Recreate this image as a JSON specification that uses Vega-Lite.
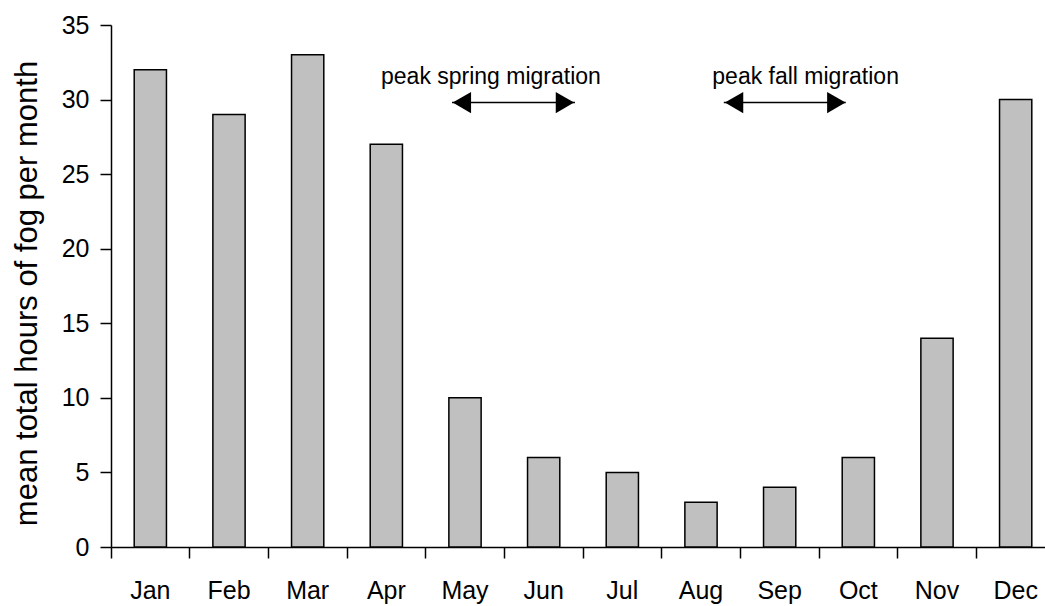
{
  "$schema": "https://vega.github.io/schema/vega-lite/v6.json",
  "autosize": "none",
  "width": 934,
  "height": 522,
  "padding": {"left": 111, "top": 25, "right": 0, "bottom": 59},
  "background": "white",
  "config": {
    "view": {"stroke": null},
    "font": "Liberation Sans",
    "axis": {"labelFont": "Liberation Sans", "titleFont": "Liberation Sans", "labelColor": "black", "titleColor": "black", "domainColor": "black", "tickColor": "black", "domainWidth": 1.5, "tickWidth": 1.5, "grid": false}
  },
  "datasets": {
    "fog": [
      {"month": "Jan", "hours": 32},
      {"month": "Feb", "hours": 29},
      {"month": "Mar", "hours": 33},
      {"month": "Apr", "hours": 27},
      {"month": "May", "hours": 10},
      {"month": "Jun", "hours": 6},
      {"month": "Jul", "hours": 5},
      {"month": "Aug", "hours": 3},
      {"month": "Sep", "hours": 4},
      {"month": "Oct", "hours": 6},
      {"month": "Nov", "hours": 14},
      {"month": "Dec", "hours": 30}
    ],
    "arrows": [
      {"label": "peak spring migration", "start": 4.335, "end": 5.898, "headL": 4.46, "headR": 5.77, "textX": 4.83},
      {"label": "peak fall migration", "start": 7.79, "end": 9.34, "headL": 7.92, "headR": 9.22, "textX": 8.83}
    ]
  },
  "resolve": {"scale": {"x": "independent"}},
  "layer": [
    {
      "data": {"name": "fog"},
      "mark": {"type": "bar", "fill": "#C0C0C0", "stroke": "black", "strokeWidth": 1.5, "width": {"band": 0.41}},
      "encoding": {
        "x": {
          "field": "month", "type": "nominal", "sort": null,
          "scale": {"range": [0, 944], "paddingInner": 0, "paddingOuter": 0},
          "axis": {"title": null, "labelAngle": 0, "bandPosition": 0, "tickSize": 11, "labelFontSize": 25, "labelPadding": 20}
        },
        "y": {
          "field": "hours", "type": "quantitative",
          "scale": {"domain": [0, 35], "nice": false},
          "axis": {"values": [0, 5, 10, 15, 20, 25, 30, 35], "tickSize": 11, "labelFontSize": 25, "labelPadding": 11, "title": "mean total hours of fog per month", "titleFontSize": 31, "titleFontWeight": "normal", "titlePadding": 18, "titleY": 268}
        }
      }
    },
    {
      "mark": {"type": "rule", "color": "#808080", "strokeWidth": 2.5},
      "encoding": {"y": {"datum": 35}}
    },
    {
      "data": {"name": "arrows"},
      "mark": {"type": "rule", "color": "black", "strokeWidth": 1.5},
      "encoding": {
        "x": {"field": "start", "type": "quantitative", "scale": {"domain": [0, 12], "range": [0, 944], "nice": false, "zero": false}, "axis": null},
        "x2": {"field": "end"},
        "y": {"datum": 29.8}
      }
    },
    {
      "data": {"name": "arrows"},
      "mark": {"type": "point", "shape": "triangle-left", "filled": true, "color": "black", "opacity": 1, "size": 450},
      "encoding": {
        "x": {"field": "headL", "type": "quantitative", "scale": {"domain": [0, 12], "range": [0, 944], "nice": false, "zero": false}, "axis": null},
        "y": {"datum": 29.8}
      }
    },
    {
      "data": {"name": "arrows"},
      "mark": {"type": "point", "shape": "triangle-right", "filled": true, "color": "black", "opacity": 1, "size": 450},
      "encoding": {
        "x": {"field": "headR", "type": "quantitative", "scale": {"domain": [0, 12], "range": [0, 944], "nice": false, "zero": false}, "axis": null},
        "y": {"datum": 29.8}
      }
    },
    {
      "data": {"name": "arrows"},
      "mark": {"type": "text", "font": "Liberation Sans", "fontSize": 23, "color": "black", "baseline": "middle", "align": "center"},
      "encoding": {
        "x": {"field": "textX", "type": "quantitative", "scale": {"domain": [0, 12], "range": [0, 944], "nice": false, "zero": false}, "axis": null},
        "y": {"datum": 31.5},
        "text": {"field": "label"}
      }
    }
  ]
}
